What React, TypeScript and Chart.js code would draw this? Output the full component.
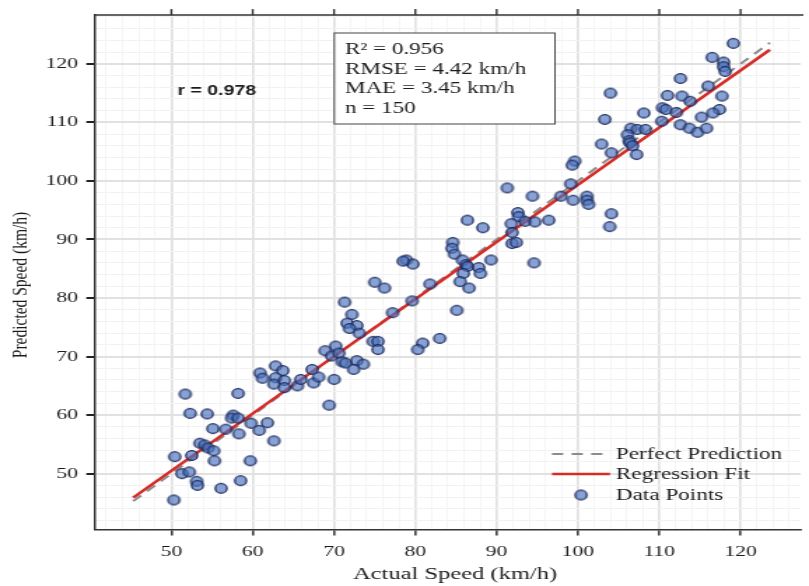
import React, { useEffect, useRef } from 'react';
import { Chart, registerables } from 'chart.js';

Chart.register(...registerables);

// ---- data ----
const ACTUAL = [
  51.7, 58.2, 52.3, 54.4, 57.6, 57.4, 58.2, 55.1, 56.7, 58.3, 59.8, 61.8, 60.8, 62.6, 53.5, 54.1, 54.5, 55.2, 50.4, 52.5,
  55.3, 59.7, 51.3, 52.2, 53.1, 53.2, 56.1, 58.5, 50.3,
  60.9, 61.2, 62.8, 63.7, 62.8, 62.6, 63.9, 63.9, 65.5, 65.9, 67.3, 67.5,
  78.9, 79.7, 78.5, 75.0, 76.2, 81.8, 79.6, 71.3, 77.2, 85.1, 72.2, 71.6, 72.8, 71.9, 73.1, 74.8, 75.4, 75.4, 70.2,
  68.9, 69.7, 70.6, 80.9, 80.3, 83.0, 71.0, 71.4, 72.8, 73.6, 72.4, 70.0, 68.1, 69.4,
  99.6, 99.3, 104.1, 91.3, 94.4, 99.1, 97.9, 99.4, 101.1, 101.1, 101.3, 104.1, 103.9, 92.6, 92.7, 91.8, 93.5, 94.7, 96.4,
  86.4, 88.3, 91.9, 91.9, 92.4, 84.6, 84.5, 84.8, 85.8, 89.3, 86.2, 86.4, 87.8, 88.0, 85.9, 85.5, 86.6, 94.6,
  119.1, 116.5, 117.9, 117.9, 118.1, 112.6, 104.0, 116.0, 117.7, 111.0, 112.8, 113.8, 110.4, 110.8, 112.1, 108.1, 117.4,
  116.6, 115.2, 103.3, 110.3, 112.6, 113.7, 114.7, 115.8, 106.5, 107.3, 108.3, 106.1, 106.3, 106.4, 102.9, 106.7, 107.2,
];
const PREDICTED = [
  63.6, 63.7, 60.3, 60.2, 60.0, 59.5, 59.5, 57.7, 57.6, 56.8, 58.6, 58.7, 57.4, 55.6, 55.2, 54.9, 54.4, 53.9, 52.9, 53.1,
  52.2, 52.2, 50.0, 50.3, 48.7, 48.0, 47.5, 48.8, 45.5,
  67.2, 66.3, 68.4, 67.6, 66.4, 65.3, 65.9, 64.7, 65.0, 66.1, 67.8, 65.5,
  86.5, 85.8, 86.3, 82.7, 81.7, 82.4, 79.5, 79.3, 77.5, 77.9, 77.2, 75.7, 75.3, 74.8, 74.0, 72.6, 72.6, 71.2, 71.8,
  71.0, 70.1, 70.6, 72.3, 71.2, 73.1, 69.1, 68.9, 69.3, 68.7, 67.8, 66.1, 66.5, 61.7,
  103.4, 102.7, 104.8, 98.8, 97.4, 99.5, 97.4, 96.7, 97.4, 96.7, 96.0, 94.4, 92.2, 94.6, 93.9, 92.7, 93.1, 93.0, 93.3,
  93.3, 92.0, 91.2, 89.3, 89.5, 89.5, 88.5, 87.5, 86.5, 86.5, 85.7, 85.4, 85.2, 84.2, 84.2, 82.8, 81.7, 86.0,
  123.5, 121.1, 120.3, 119.5, 118.7, 117.5, 115.0, 116.2, 114.5, 114.6, 114.5, 113.6, 112.5, 112.2, 111.7, 111.6, 112.2,
  111.6, 110.9, 110.5, 110.2, 109.6, 109.0, 108.3, 109.0, 109.0, 108.8, 108.8, 107.9, 106.9, 106.5, 106.3, 106.0, 104.5,
];
const PERFECT_X = [45.3, 123.6];
const PERFECT_Y = [45.3, 123.6];
const FIT_X = [45.3, 123.6];
const FIT_Y = [45.9, 122.4];
const X_TICKS = [50, 60, 70, 80, 90, 100, 110, 120];
const Y_TICKS = [50, 60, 70, 80, 90, 100, 110, 120];
const STATS_LINES = ['R² = 0.956', 'RMSE = 4.42 km/h', 'MAE = 3.45 km/h', 'n = 150'];
const R_LABEL = 'r = 0.978';
const LEGEND_LABELS = ['Perfect Prediction', 'Regression Fit', 'Data Points'];
const X_TITLE = 'Actual Speed (km/h)';
const Y_TITLE = 'Predicted Speed (km/h)';

// ---- layout (canvas is drawn narrow and stretched horizontally by CSS) ----
const CSS_W = 809;
const CSS_H = 586;
const INT_W = 578;
const S = CSS_W / INT_W;
const SERIF = '"Liberation Serif", "Times New Roman", serif';
const SANS = '"Liberation Sans", Arial, sans-serif';
const TEXT = '#1c1c1c';
const RED = 'rgb(214,44,40)';
const GRAY = 'rgb(140,140,140)';

function makeMarker(): HTMLCanvasElement {
  const c = document.createElement('canvas');
  c.width = 12;
  c.height = 13;
  const g = c.getContext('2d')!;
  g.beginPath();
  g.ellipse(6, 6.5, 4.15, 4.8, 0, 0, Math.PI * 2);
  g.fillStyle = 'rgba(74,114,192,0.66)';
  g.fill();
  g.lineWidth = 1.25;
  g.strokeStyle = '#1a2858';
  g.stroke();
  return c;
}

const range = (a: number, b: number, step: number) => {
  const out: number[] = [];
  for (let v = a; v <= b + 1e-9; v += step) out.push(Math.round(v * 100) / 100);
  return out;
};

export default function App() {
  const ref = useRef<HTMLCanvasElement | null>(null);

  useEffect(() => {
    document.body.style.margin = '0';
    const canvas = ref.current!;
    const marker = makeMarker();

    const overlay = {
      id: 'overlay',
      afterDraw(chart: any) {
        const { ctx, chartArea: ca, scales } = chart;
        const xs = scales.x;
        ctx.save();
        // top frame + ticks
        ctx.strokeStyle = '#333';
        ctx.lineWidth = 1.5;
        ctx.beginPath();
        ctx.moveTo(ca.left, ca.top);
        ctx.lineTo(ca.right + 2, ca.top);
        ctx.stroke();
        ctx.lineWidth = 1.4;
        for (const v of X_TICKS) {
          const px = xs.getPixelForValue(v);
          ctx.beginPath();
          ctx.moveTo(px, ca.top);
          ctx.lineTo(px, ca.top - 6);
          ctx.stroke();
        }
        // r label
        ctx.fillStyle = TEXT;
        ctx.font = `bold 14px ${SANS}`;
        ctx.textAlign = 'left';
        ctx.textBaseline = 'alphabetic';
        ctx.fillText(R_LABEL, 177.3 / S, 94.7);
        // stats box
        const bx = 334.3 / S, by = 33, bw = (555 - 334.3) / S, bh = 91;
        ctx.fillStyle = '#fff';
        ctx.fillRect(bx, by, bw, bh);
        ctx.strokeStyle = '#444';
        ctx.lineWidth = 1;
        ctx.strokeRect(bx, by, bw, bh);
        ctx.fillStyle = TEXT;
        ctx.font = `16.5px ${SERIF}`;
        STATS_LINES.forEach((t, i) => ctx.fillText(t, 345 / S, 53.9 + i * 19.7));
        // legend
        const lx0 = 552 / S, lx1 = 610 / S, tx = 616 / S;
        const rows = [454, 474, 495];
        ctx.lineWidth = 2;
        ctx.strokeStyle = GRAY;
        ctx.setLineDash([8, 6]);
        ctx.beginPath();
        ctx.moveTo(lx0, rows[0]);
        ctx.lineTo(lx1, rows[0]);
        ctx.stroke();
        ctx.setLineDash([]);
        ctx.strokeStyle = RED;
        ctx.lineWidth = 2.5;
        ctx.beginPath();
        ctx.moveTo(lx0, rows[1]);
        ctx.lineTo(lx1, rows[1]);
        ctx.stroke();
        ctx.drawImage(marker, (lx0 + lx1) / 2 - marker.width / 2, rows[2] - marker.height / 2);
        ctx.fillStyle = TEXT;
        ctx.font = `16.5px ${SERIF}`;
        ctx.textBaseline = 'middle';
        LEGEND_LABELS.forEach((t, i) => ctx.fillText(t, tx, rows[i] + 1));
        // axis titles
        ctx.font = `17.5px ${SERIF}`;
        ctx.textAlign = 'center';
        ctx.fillText(X_TITLE, 455 / S, 574);
        ctx.translate(21 / S, 285);
        ctx.rotate(-Math.PI / 2);
        ctx.font = `15.5px ${SERIF}`;
        ctx.fillText(Y_TITLE, 0, 0);
        ctx.restore();
      },
    };

    const isMajor = (v: number) => Math.abs(v % 10) < 1e-6;
    const gridColor = (c: any) => (c.tick && isMajor(c.tick.value) ? '#e1e1e1' : '#f2f2f2');
    const tickColor = (c: any) => (c.tick && isMajor(c.tick.value) ? '#222' : 'rgba(0,0,0,0)');

    const chart = new Chart(canvas, {
      type: 'scatter',
      data: {
        datasets: [
          {
            label: 'Data Points',
            data: ACTUAL.map((x, i) => ({ x, y: PREDICTED[i] })),
            pointStyle: marker as any,
            pointRadius: 5,
            showLine: false,
          },
          {
            label: 'Regression Fit',
            data: FIT_X.map((x, i) => ({ x, y: FIT_Y[i] })),
            showLine: true,
            borderColor: RED,
            borderWidth: 2.5,
            pointRadius: 0,
          },
          {
            label: 'Perfect Prediction',
            data: PERFECT_X.map((x, i) => ({ x, y: PERFECT_Y[i] })),
            showLine: true,
            borderColor: GRAY,
            borderWidth: 2,
            borderDash: [8, 6],
            pointRadius: 0,
          },
        ],
      },
      options: {
        responsive: false,
        maintainAspectRatio: false,
        animation: false,
        devicePixelRatio: 1,
        layout: { padding: { top: 12, right: 0, left: 0, bottom: 0 } },
        plugins: { legend: { display: false }, tooltip: { enabled: false } },
        scales: {
          x: {
            type: 'linear',
            min: 40.52,
            max: 127.38,
            afterBuildTicks: (axis: any) => {
              axis.ticks = range(42, 126, 2).map((value) => ({ value }));
            },
            afterFit: (axis: any) => {
              axis.height = 56.5;
            },
            ticks: {
              autoSkip: false,
              maxRotation: 0,
              minRotation: 0,
              padding: 7,
              color: TEXT,
              font: { family: SERIF, size: 15.5 },
              callback: (v: any) => (X_TICKS.includes(Number(v)) ? String(v) : ''),
            },
            grid: {
              color: gridColor,
              lineWidth: (c: any) => (c.tick && isMajor(c.tick.value) ? 1.7 : 0.8),
              tickColor,
              tickLength: 6,
              tickWidth: 1.4,
            },
            border: { display: true, color: '#333', width: 1.6 },
          },
          y: {
            type: 'linear',
            min: 40.46,
            max: 128.32,
            afterBuildTicks: (axis: any) => {
              axis.ticks = range(42, 128, 2).map((value) => ({ value }));
            },
            afterFit: (axis: any) => {
              axis.width = 94.3 / S;
            },
            ticks: {
              autoSkip: false,
              padding: 5.8,
              color: TEXT,
              font: { family: SERIF, size: 15.5 },
              callback: (v: any) => (Y_TICKS.includes(Number(v)) ? String(v) : ''),
            },
            grid: {
              color: gridColor,
              lineWidth: (c: any) => (c.tick && isMajor(c.tick.value) ? 2 : 1),
              tickColor,
              tickLength: 5.7,
              tickWidth: 2,
            },
            border: { display: true, color: '#333', width: 1.5 },
          },
        },
      },
      plugins: [overlay],
    } as any);

    return () => chart.destroy();
  }, []);

  return (
    <div style={{ position: 'fixed', left: 0, top: 0, width: CSS_W, height: CSS_H, background: '#fff' }}>
      <canvas
        ref={ref}
        width={INT_W}
        height={CSS_H}
        style={{ display: 'block', width: `${CSS_W}px`, height: `${CSS_H}px` }}
      />
    </div>
  );
}
